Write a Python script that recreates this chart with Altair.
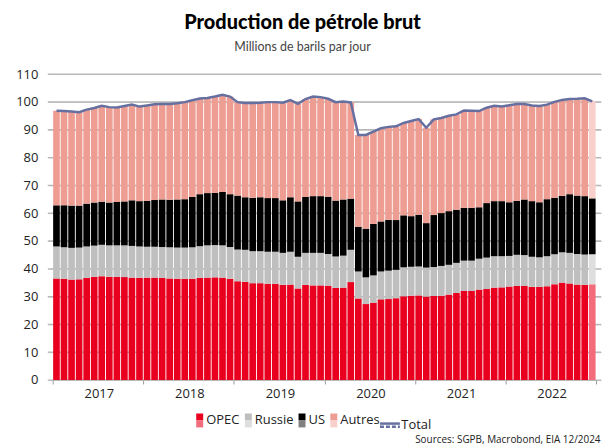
import altair as alt
import pandas as pd

YEARS = [2017, 2018, 2019, 2020, 2021, 2022]
SERIES = ["OPEC", "Russie", "US", "Autres"]
Y_TICKS = list(range(0, 111, 10))

OPEC = [36.5, 36.4, 36.1, 36.2, 36.7, 37.1, 37.3, 37.1, 37.1, 37.0, 36.8, 36.7,
        36.8, 36.8, 36.7, 36.5, 36.4, 36.4, 36.4, 36.7, 36.8, 36.9, 36.8, 36.4,
        35.5, 35.3, 34.8, 34.8, 34.6, 34.6, 34.2, 34.3, 32.9, 34.2, 34.0, 34.0,
        33.9, 33.1, 33.2, 35.2, 29.3, 27.3, 27.8, 29.0, 29.1, 29.4, 30.1, 30.3,
        30.4, 30.0, 30.2, 30.3, 30.7, 31.3, 32.0, 32.0, 32.5, 32.7, 33.2, 33.3,
        33.6, 33.8, 33.8, 33.5, 33.5, 33.7, 34.4, 35.0, 34.7, 34.3, 34.2, 34.4]
RUSSIE = [11.5, 11.3, 11.4, 11.4, 11.3, 11.2, 11.3, 11.3, 11.3, 11.4, 11.4, 11.3,
          11.1, 11.1, 11.1, 11.2, 11.2, 11.2, 11.3, 11.4, 11.6, 11.6, 11.6, 11.4,
          11.4, 11.5, 11.5, 11.5, 11.5, 11.5, 11.5, 11.8, 11.4, 11.5, 11.7, 11.7,
          11.4, 11.3, 11.5, 11.6, 9.7, 9.6, 9.8, 10.0, 10.2, 10.2, 10.4, 10.4,
          10.4, 10.4, 10.4, 10.7, 10.7, 10.8, 10.9, 10.9, 11.1, 11.3, 11.3, 11.2,
          11.0, 11.2, 11.1, 10.8, 10.6, 10.8, 10.8, 10.9, 11.0, 11.0, 10.9, 10.8]
US = [14.8, 15.1, 15.2, 15.1, 15.4, 15.5, 15.5, 15.4, 15.6, 15.8, 16.4, 16.3,
      16.5, 16.8, 17.1, 17.1, 17.3, 17.4, 18.1, 18.7, 18.8, 18.8, 19.2, 19.0,
      19.4, 18.9, 19.2, 19.4, 19.3, 19.3, 18.9, 19.6, 19.9, 20.1, 20.4, 20.4,
      20.6, 20.1, 20.2, 18.4, 16.1, 17.5, 18.5, 18.0, 18.3, 17.9, 18.7, 18.2,
      18.6, 16.0, 18.7, 19.0, 19.3, 19.1, 19.0, 19.0, 18.5, 19.6, 19.8, 19.8,
      19.3, 19.4, 20.0, 20.0, 19.8, 20.5, 20.3, 20.3, 21.1, 21.0, 21.0, 20.1]
AUTRES = [34.0, 33.9, 33.8, 33.6, 33.8, 34.0, 34.5, 34.3, 34.0, 34.3, 34.4, 34.0,
          34.3, 34.4, 34.3, 34.4, 34.6, 34.9, 34.8, 34.4, 34.2, 34.6, 34.9, 35.1,
          33.6, 33.9, 34.1, 34.0, 34.5, 34.5, 35.1, 34.9, 35.1, 35.2, 35.8, 35.6,
          35.2, 35.4, 35.2, 34.6, 33.0, 33.7, 33.2, 33.5, 33.4, 33.7, 33.2, 34.2,
          34.4, 34.3, 34.4, 34.2, 34.3, 34.3, 35.0, 34.9, 34.6, 34.3, 34.3, 34.0,
          34.9, 34.8, 34.3, 34.4, 34.6, 34.0, 34.5, 34.5, 34.2, 34.8, 35.2, 34.9]

DARK = ["#e8001e", "#bfbfbf", "#000000", "#ee9d93"]
LIGHT = ["#f26c7c", "#dedede", "#808080", "#f8cfca"]
FC_BAR = ["#f26c7c", "#dedede", "#000000", "#f8cfca"]
LINE = "#6670a0"
GRID = "#b8b8b8"

W, H = 557, 308
NM = 12 * len(YEARS)
FONT = "Open Sans"

n = len(OPEC)
rows = []
for t in range(n):
    for k, (s, vals) in enumerate(zip(SERIES, [OPEC, RUSSIE, US, AUTRES])):
        rows.append({"t": t + 0.5, "serie": s, "k": k, "v": vals[t], "fc": t == n - 1})
df = pd.DataFrame(rows)
df_act = df[~df["fc"]]
df_fc = df[df["fc"]]
tot = pd.DataFrame({
    "t": [t + 0.5 for t in range(n)],
    "total": [OPEC[i] + RUSSIE[i] + US[i] + AUTRES[i] for i in range(n)],
    "lab": ["Total"] * n,
})

x_scale = alt.Scale(domain=[0, NM], nice=False, zero=False)
x_axis = alt.Axis(
    values=[12 * i for i in range(len(YEARS) + 1)],
    labelExpr=f"datum.value < {NM} ? '' + ({YEARS[0]} + datum.value / 12) : ''",
    labelOffset=W / 12, labelFlush=False, labelAlign="center", labelOverlap=False,
    labelFont=FONT, labelFontSize=13, labelColor="#222", labelPadding=4,
    tickSize=4, tickColor="#999", domain=False, grid=False,
    title="Sources: SGPB, Macrobond, EIA 12/2024", titleFont=FONT,
    titleFontSize=10, titleFontWeight="normal", titleColor="#222",
    titleAlign="right", titleAnchor="end", titleBaseline="alphabetic",
    titleX=W - 1, titleY=63,
)
y_scale = alt.Scale(domain=[0, 110], nice=False, zero=True)
y_axis = alt.Axis(values=Y_TICKS, title=None, labelFont=FONT,
                  labelFontSize=13, labelColor="#222", ticks=False, domain=False,
                  labelPadding=10, labelOverlap=False, grid=True,
                  gridColor=GRID, gridOpacity=1, gridWidth=1)


def xe():
    return alt.X("t:Q", scale=x_scale, axis=x_axis)


def ye(field, stack=None):
    if stack:
        return alt.Y(field, stack=stack, scale=y_scale, axis=y_axis)
    return alt.Y(field, scale=y_scale, axis=y_axis)


LX, LY = 146.5, 342
leg_common = dict(title=None, orient="none", legendY=LY, direction="horizontal",
                  labelFont=FONT, labelFontSize=13, labelColor="#222",
                  columnPadding=2, padding=0, symbolOpacity=1)

grid = alt.Chart(pd.DataFrame({"g": Y_TICKS})).mark_rule(
    color=GRID, strokeWidth=1.2, opacity=1).encode(
    y=ye("g:Q"), x=alt.value(0), x2=alt.value(W))

bars = alt.Chart(df_act).mark_bar(size=6.7).encode(
    x=xe(),
    y=ye("v:Q", "zero"),
    color=alt.Color("serie:N", scale=alt.Scale(domain=SERIES, range=DARK),
                    legend=alt.Legend(legendX=LX, symbolType="M-1,-2H1V0H-1Z",
                                      symbolSize=49, symbolStrokeWidth=0,
                                      labelOffset=0, **leg_common)),
    order=alt.Order("k:Q", sort="ascending"),
)
bars_fc = alt.Chart(df_fc).mark_bar(size=6.7).encode(
    x=xe(),
    y=ye("v:Q", "zero"),
    color=alt.Color("serie:N", scale=alt.Scale(domain=SERIES, range=FC_BAR), legend=None),
    order=alt.Order("k:Q", sort="ascending"),
)
leg_light = alt.Chart(pd.DataFrame({"serie": SERIES})).mark_point(
    filled=True, opacity=0, size=0).encode(
    color=alt.Color("serie:N", scale=alt.Scale(domain=SERIES, range=LIGHT),
                    legend=alt.Legend(legendX=LX, symbolType="M-1,0H1V2H-1Z",
                                      symbolSize=49, symbolStrokeWidth=0,
                                      labelOffset=0, labelOpacity=0, **leg_common)),
)
TX = 333
line = alt.Chart(tot).mark_line(strokeWidth=2.5).encode(
    x=xe(),
    y=ye("total:Q"),
    color=alt.Color("lab:N", scale=alt.Scale(domain=["Total"], range=[LINE]),
                    legend=alt.Legend(legendX=TX, symbolType="M-1,-0.16H1",
                                      symbolSize=400, symbolStrokeWidth=2.5,
                                      symbolStrokeColor=LINE, labelOffset=0,
                                      **leg_common)),
)
leg_dash = alt.Chart(pd.DataFrame({"lab": ["Total"]})).mark_point(
    filled=False, opacity=0, size=0).encode(
    color=alt.Color("lab:N", scale=alt.Scale(domain=["Total"], range=[LINE]),
                    legend=alt.Legend(legendX=TX, symbolType="M-1,0.16H1",
                                      symbolSize=400, symbolStrokeWidth=2.5,
                                      symbolStrokeColor=LINE, symbolDash=[4, 2],
                                      labelOffset=0, labelExpr="''", **leg_common)),
)

chart = alt.layer(grid, bars, bars_fc, line, leg_light, leg_dash).resolve_scale(
    color="independent"
).properties(
    width=W, height=H,
    padding={"left": 40, "top": 65, "right": 1, "bottom": 67},
    autosize=alt.AutoSizeParams(type="none"),
    title=alt.TitleParams(
        text="Production de pétrole brut",
        subtitle="Millions de barils par jour",
        font="Lato", fontSize=20, fontWeight=900, color="#000",
        subtitleFont="Lato", subtitleFontSize=12.5, subtitleColor="#444",
        subtitlePadding=8, anchor="middle", frame="group", dx=-22, offset=15,
    ),
).configure_view(stroke=None).configure_axisY(grid=True, gridColor=GRID)

chart.save("out.html", embed_options={"renderer": "svg", "actions": False})
